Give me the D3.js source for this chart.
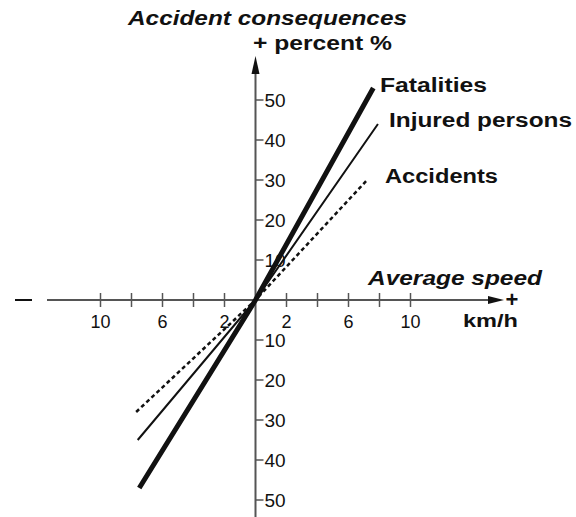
<!DOCTYPE html>
<html><head><meta charset="utf-8">
<script src="https://cdn.jsdelivr.net/npm/d3@7"></script>
<style>body{margin:0;background:#fff}svg{display:block}text{font-family:"Liberation Sans",Arial,sans-serif}</style>
</head><body><svg id="c" width="576" height="517"></svg>
<script>
// ---- data ----
const xTicks = [-10,-8,-6,-4,-2,2,4,6,8,10];
const xLabels = [-10,-6,-2,2,6,10];
const yTicks = [-50,-40,-30,-20,-10,10,20,30,40,50];
const seriesNames = ["Fatalities","Injured persons","Accidents"];
const fatalX = [-7.5, 0, 7.6];
const fatalY = [-47, 0, 53];
const injuredX = [-7.6, 0, 7.9];
const injuredY = [-35, 0, 44];
const accidentX = [-7.7, 0, 7.2];
const accidentY = [-28, 0, 30];

const svg = d3.select("#c");
const x = d3.scaleLinear().domain([-10,10]).range([100.5,410.5]);
const y = d3.scaleLinear().domain([-50,50]).range([500,100]);
const axisCol = "#555", ink = "#111";
const x0 = x(0), y0 = y(0);

// x axis
svg.append("line").attr("x1",47).attr("x2",496).attr("y1",y0).attr("y2",y0).attr("stroke",axisCol).attr("stroke-width",2);
svg.append("path").attr("d",`M${504},${y0} L${488},${y0-4} L${488},${y0+4} Z`).attr("fill",ink);
svg.selectAll(".xt").data(xTicks).enter().append("line")
  .attr("x1",d=>x(d)).attr("x2",d=>x(d)).attr("y1",y0-7).attr("y2",y0+7)
  .attr("stroke",axisCol).attr("stroke-width",1.5);
svg.selectAll(".xl").data(xLabels).enter().append("text")
  .attr("x",d=>x(d)).attr("y",y0+28).attr("text-anchor","middle")
  .attr("font-size",18).attr("fill",ink).text(d=>Math.abs(d));
svg.append("line").attr("x1",15).attr("x2",32).attr("y1",y0).attr("y2",y0).attr("stroke",ink).attr("stroke-width",2);
svg.append("text").attr("x",512).attr("y",y0+7).attr("text-anchor","middle").attr("font-size",22).attr("font-weight","bold").attr("fill",ink).text("+");

// y axis
svg.append("line").attr("x1",x0).attr("x2",x0).attr("y1",70).attr("y2",517).attr("stroke",axisCol).attr("stroke-width",2);
svg.append("path").attr("d",`M${x0},56 L${x0-4},74 L${x0+4},74 Z`).attr("fill",ink);
svg.selectAll(".yt").data(yTicks).enter().append("line")
  .attr("x1",x0).attr("x2",x0+8).attr("y1",d=>y(d)).attr("y2",d=>y(d))
  .attr("stroke",axisCol).attr("stroke-width",1.5);
svg.selectAll(".yl").data(yTicks).enter().append("text")
  .attr("x",x0+9).attr("y",d=>y(d)+6.5)
  .attr("font-size",19).attr("fill",ink).text(d=>Math.abs(d));

// series
const line = d3.line().x(d=>x(d[0])).y(d=>y(d[1]));
const series = [
  {name:seriesNames[0], xs:fatalX, ys:fatalY, w:5, dash:null},
  {name:seriesNames[1], xs:injuredX, ys:injuredY, w:2, dash:null},
  {name:seriesNames[2], xs:accidentX, ys:accidentY, w:2.5, dash:"4,3"}
];
series.forEach(s=>{
  svg.append("path").datum(s.xs.map((v,i)=>[v,s.ys[i]]))
    .attr("d",line).attr("fill","none").attr("stroke",ink)
    .attr("stroke-width",s.w).attr("stroke-dasharray",s.dash);
});

// labels
function lab(t,xx,yy,fs,len,italic){
  svg.append("text").attr("x",xx).attr("y",yy).attr("font-size",fs).attr("font-weight","bold")
    .attr("font-style",italic?"italic":"normal").attr("fill",ink)
    .attr("textLength",len).attr("lengthAdjust","spacingAndGlyphs").text(t);
}
lab(seriesNames[0],380,92,20,107);
lab(seriesNames[1],389,127,20,183);
lab(seriesNames[2],385,183,20,113);
lab("Accident consequences",128,25,20,279,true);
lab("+ percent %",253,50,20,139);
lab("Average speed",368,285,21,174,true);
lab("km/h",463,327,19,55);
</script></body></html>
